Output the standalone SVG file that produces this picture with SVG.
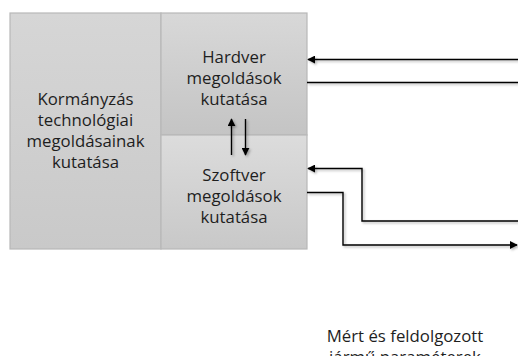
<svg xmlns="http://www.w3.org/2000/svg" width="518" height="356" viewBox="0 0 518 356">
<defs>
<linearGradient id="gL" x1="0" y1="0" x2="0" y2="1"><stop offset="0" stop-color="#d6d6d6"/><stop offset="1" stop-color="#c9c9c9"/></linearGradient>
<linearGradient id="gH" x1="0" y1="0" x2="0" y2="1"><stop offset="0" stop-color="#d8d8d8"/><stop offset="1" stop-color="#c4c4c4"/></linearGradient>
<linearGradient id="gS" x1="0" y1="0" x2="0" y2="1"><stop offset="0" stop-color="#dcdcdc"/><stop offset="1" stop-color="#c8c8c8"/></linearGradient>
<marker id="ah" viewBox="0 0 10 10" refX="9" refY="5" markerWidth="8" markerHeight="8" markerUnits="userSpaceOnUse" orient="auto">
<path d="M0,0 L10,5 L0,10 z" fill="#000"/>
</marker>
<filter id="sh" x="-10%" y="-10%" width="120%" height="130%">
<feDropShadow dx="1.5" dy="1.5" stdDeviation="1" flood-color="#000" flood-opacity="0.3"/>
</filter>
</defs>
<style>
.box{stroke:#b8b8b8;stroke-width:1.2}
.t{font-family:"Open Sans","Liberation Sans",sans-serif;font-size:16.8px;fill:#1e1e1e;text-anchor:middle}
.c{fill:none;stroke:#000;stroke-width:1.4}
</style>
<g id="kormanyzas">
<rect class="box" x="10" y="13" width="151" height="236" fill="url(#gL)"/>
<text class="t" x="85.5" y="105">Kormányzás</text>
<text class="t" x="85.5" y="126">technológiai</text>
<text class="t" x="85.5" y="147">megoldásainak</text>
<text class="t" x="85.5" y="168">kutatása</text>
</g>
<g id="hardver">
<rect class="box" x="161" y="13" width="146" height="122" fill="url(#gH)"/>
<text class="t" x="234" y="63">Hardver</text>
<text class="t" x="234" y="84">megoldások</text>
<text class="t" x="234" y="105">kutatása</text>
</g>
<g id="szoftver">
<rect class="box" x="161" y="135" width="146" height="114" fill="url(#gS)"/>
<text class="t" x="234" y="181">Szoftver</text>
<text class="t" x="234" y="202">megoldások</text>
<text class="t" x="234" y="223">kutatása</text>
</g>
<g id="connectors" filter="url(#sh)">
<path class="c" d="M518,59.5 L308,59.5" marker-end="url(#ah)"/>
<path class="c" d="M307,82.5 L518,82.5"/>
<path class="c" d="M518,221 L362,221 L362,168.5 L308,168.5" marker-end="url(#ah)"/>
<path class="c" d="M307,192.5 L343,192.5 L343,245 L517,245" marker-end="url(#ah)"/>
<path class="c" d="M231.5,155 L231.5,119" marker-end="url(#ah)"/>
<path class="c" d="M245.5,119 L245.5,155" marker-end="url(#ah)"/>
</g>
<g id="meres">
<text class="t" x="405" y="342">Mért és feldolgozott</text>
<text class="t" x="405" y="363">jármű paraméterek</text>
</g>
</svg>
